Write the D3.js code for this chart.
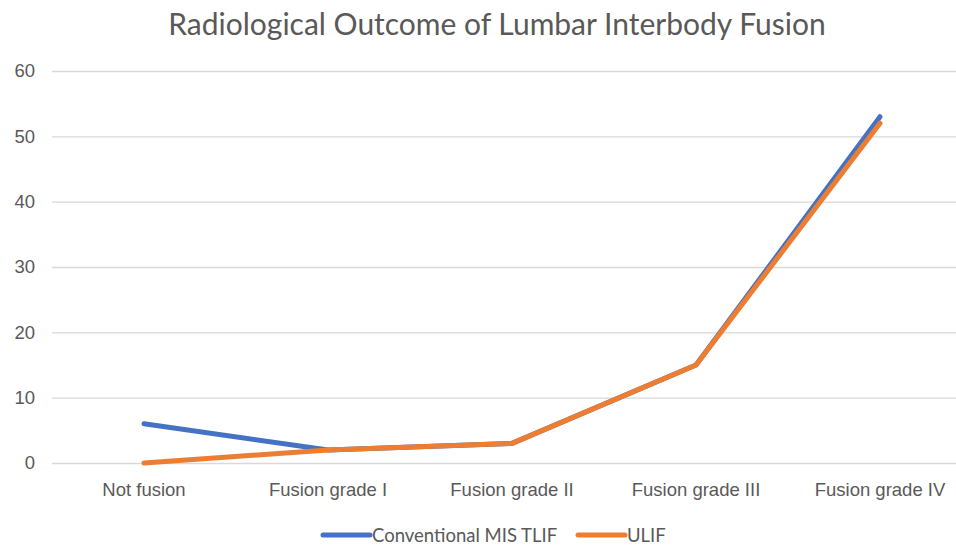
<!DOCTYPE html>
<html>
<head>
<meta charset="utf-8">
<script src="https://cdn.jsdelivr.net/npm/d3@7"></script>
<style>
  body { margin: 0; background: #fff; }
  svg { display: block; font-family: Lato, "Open Sans", sans-serif; }
</style>
</head>
<body>
<script>
const categories = ['Not fusion', 'Fusion grade I', 'Fusion grade II', 'Fusion grade III', 'Fusion grade IV']
const misTlif = [6, 2, 3, 15, 53]
const ulif = [0, 2, 3, 15, 52]
const yTicks = [0, 10, 20, 30, 40, 50, 60]
const seriesNames = ['Conventional MIS TLIF', 'ULIF']

const width = 956, height = 546
const plotLeft = 52, plotRight = 972, plotTop = 71, plotBottom = 463

const svg = d3.select('body').append('svg')
  .attr('width', width)
  .attr('height', height)

const x = d3.scaleBand().domain(categories).range([plotLeft, plotRight])
const y = d3.scaleLinear().domain([0, 60]).range([plotBottom, plotTop])

// title
svg.append('text')
  .attr('x', 497)
  .attr('y', 35)
  .attr('text-anchor', 'middle')
  .attr('fill', '#595959')
  .style('font-size', '30px')
  .text('Radiological Outcome of Lumbar Interbody Fusion')

// gridlines + y labels
const yAxis = svg.append('g')
  .attr('transform', 'translate(' + plotLeft + ',0)')
  .call(d3.axisLeft(y).tickValues(yTicks).tickSize(-(plotRight - plotLeft)).tickPadding(17))
yAxis.select('.domain').remove()
yAxis.selectAll('line').attr('stroke', '#d9d9d9').attr('stroke-width', 1.3)
yAxis.selectAll('text').attr('fill', '#595959').style('font-size', '18.5px')

// x labels
const xAxis = svg.append('g')
  .attr('transform', 'translate(0,' + plotBottom + ')')
  .call(d3.axisBottom(x).tickSize(0).tickPadding(20))
xAxis.select('.domain').remove()
xAxis.selectAll('text').attr('fill', '#595959').style('font-size', '18.5px')

const line = d3.line()
  .x((d, i) => x(categories[i]) + x.bandwidth() / 2)
  .y(d => y(d))

const series = [
  { name: seriesNames[0], values: misTlif, color: '#4472c4' },
  { name: seriesNames[1], values: ulif, color: '#ed7d31' }
]

series.forEach(s => {
  svg.append('path')
    .datum(s.values)
    .attr('d', line)
    .attr('fill', 'none')
    .attr('stroke', s.color)
    .attr('stroke-width', 5)
    .attr('stroke-linejoin', 'round')
    .attr('stroke-linecap', 'round')
})

// legend
const legendX = [323, 578]
series.forEach((s, i) => {
  const g = svg.append('g').attr('transform', 'translate(' + legendX[i] + ',535)')
  g.append('line')
    .attr('x1', 0).attr('x2', 47)
    .attr('stroke', s.color)
    .attr('stroke-width', 5)
    .attr('stroke-linecap', 'round')
  g.append('text')
    .attr('x', 49)
    .attr('y', 6.5)
    .attr('fill', '#595959')
    .style('font-size', '18.5px')
    .text(s.name)
})
</script>
</body>
</html>
